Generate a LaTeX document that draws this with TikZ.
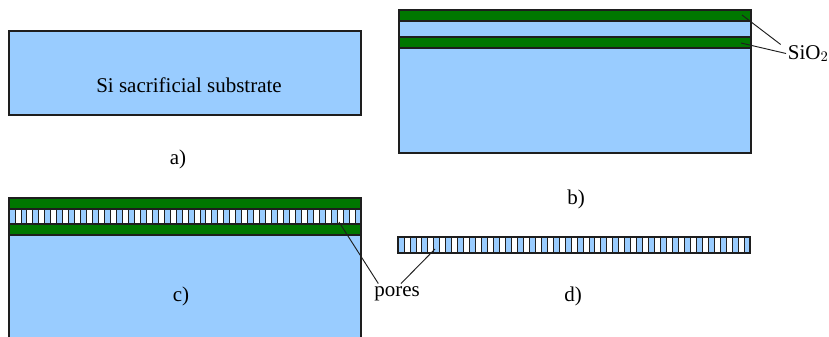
\documentclass[tikz,border=0pt]{standalone}
\usepackage{fontspec}
\setmainfont{Liberation Serif}
\usetikzlibrary{positioning}
\definecolor{siblue}{RGB}{153,204,255}
\definecolor{oxgreen}{RGB}{0,119,0}
\definecolor{edge}{RGB}{30,30,30}
\newcommand{\oxide}{\draw[fill=oxgreen] (0,0) rectangle (352,11);}
\newcommand{\porelayer}{\fill[siblue] (0,0) rectangle (352,16);
					\foreach \i in {1,3,...,57}
						\draw[fill=white, line width=0.6pt] ({\i*5.9661},0) rectangle ({(\i+1)*5.9661},16);
					\draw (0,0) rectangle (352,16);}
\tikzset{lbl/.style={inner sep=1pt, font=\fontsize{15.75}{18}\selectfont}}

\begin{document}
\begin{tikzpicture}[x=0.75pt, y=-0.75pt, line width=0.9pt, draw=edge]

					\useasboundingbox (0,0) rectangle (829,336);
					\clip (0,0) rectangle (829,336);

					\draw[fill=siblue] (9,31) rectangle (361,115);
					\node[lbl, anchor=base] (si) at (189,92) {Si sacrificial substrate};
					\node[lbl] (lbla) at (178,159) {a)};

					\begin{scope}[shift={(399,10)}]
						\draw[fill=siblue] (0,0) rectangle (352,143);
						\oxide
					\end{scope}

					\begin{scope}[shift={(399,37)}]
						\oxide
					\end{scope}

					\node[lbl, anchor=base west] (sio) at (786,59) {SiO$_2$};
					\coordinate (oxa) at (742,15);
					\coordinate (oxb) at (741,43);
					\draw[line width=0.7pt] (oxa) -- ([xshift=-4pt, yshift=-1pt]sio.north west);
					\draw[line width=0.7pt] (oxb) -- (sio.west);
					\node[lbl] (lblb) at (576,199) {b)};

					\begin{scope}[shift={(9,235)}]
						\draw[fill=siblue] (0,0) rectangle (352,120);
					\end{scope}

					\begin{scope}[shift={(9,198)}]
						\oxide
					\end{scope}

					\begin{scope}[shift={(9,209)}]
						\porelayer
					\end{scope}

					\begin{scope}[shift={(9,224)}]
						\oxide
					\end{scope}

					\node[lbl] (lblc) at (181,296) {c)};

					\begin{scope}[shift={(398,237)}]
						\porelayer
					\end{scope}

					\node[lbl] (lbld) at (573,296) {d)};

					\node[lbl] (pores) at (397,294) {pores};
					\coordinate (porec) at (339,222);
					\coordinate (pored) at (435,249);
					\draw[line width=0.7pt] (porec) -- ([xshift=-14pt, yshift=1pt]pores.north);
					\draw[line width=0.7pt] (pored) -- ([xshift=3pt, yshift=1pt]pores.north);

				\end{tikzpicture}
\end{document}
